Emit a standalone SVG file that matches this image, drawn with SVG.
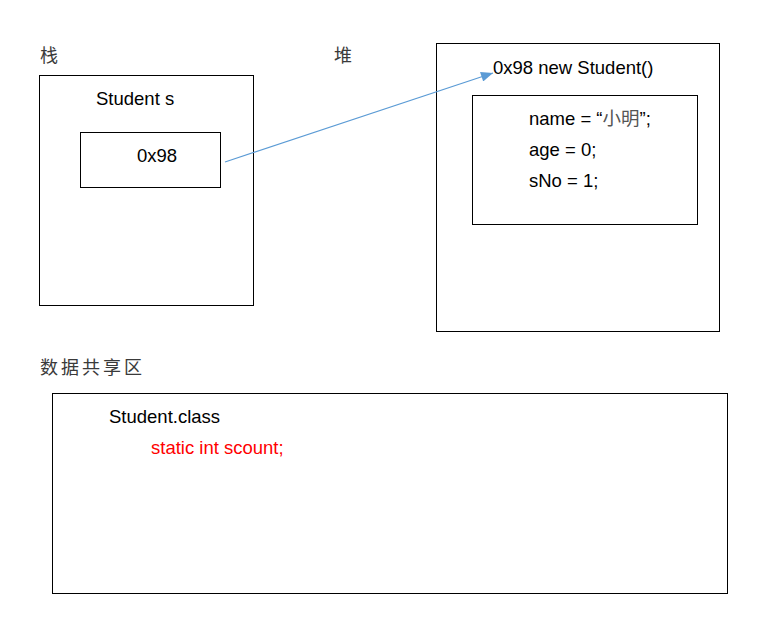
<svg xmlns="http://www.w3.org/2000/svg" width="758" height="628" viewBox="0 0 758 628">
<defs>
<style>
.box{fill:#fff;stroke:#000;stroke-width:1}
.t{font-family:"Liberation Sans","Noto Sans CJK SC",sans-serif;font-size:18.5px;fill:#000}
.cn{font-family:"Noto Sans CJK SC",sans-serif;font-size:18px;fill:#3a3a3a}
.red{fill:#ff0000}
.conn{stroke:#5B9BD5;stroke-width:1.2;fill:none}
</style>
<marker id="ah" viewBox="0 0 12 10" refX="12" refY="5" markerWidth="13" markerHeight="10" markerUnits="userSpaceOnUse" orient="auto">
<path d="M0,0 L12,5 L0,10 z" fill="#5B9BD5"/>
</marker>
</defs>
<rect width="758" height="628" fill="#fff"/>
<g id="label-stack"><text class="cn" x="40" y="62">栈</text></g>
<g id="label-heap"><text class="cn" x="334" y="62">堆</text></g>
<g id="stack">
<rect class="box" x="39.5" y="75.5" width="214" height="230"/>
<text class="t" x="96" y="105">Student s</text>
</g>
<g id="ref">
<rect class="box" x="80.5" y="132.5" width="140" height="55"/>
<text class="t" x="137" y="162">0x98</text>
</g>
<g id="heap">
<rect class="box" x="436.5" y="43.5" width="283" height="288"/>
<text class="t" x="493" y="74">0x98 new Student()</text>
</g>
<g id="object">
<rect class="box" x="472.5" y="95.5" width="225" height="129"/>
<text class="t" x="529" y="125">name = “<tspan fill="#555">小明</tspan>”;</text>
<text class="t" x="529" y="156">age = 0;</text>
<text class="t" x="529" y="187">sNo = 1;</text>
</g>
<g id="label-shared"><text class="cn" x="40" y="374" letter-spacing="3">数据共享区</text></g>
<g id="shared">
<rect class="box" x="52.5" y="393.5" width="675" height="200"/>
<text class="t" x="109" y="423">Student.class</text>
<text class="t red" x="151" y="454">static int scount;</text>
</g>
<g id="connectors">
<line class="conn" x1="225" y1="162" x2="493" y2="73" marker-end="url(#ah)"/>
</g>
</svg>
